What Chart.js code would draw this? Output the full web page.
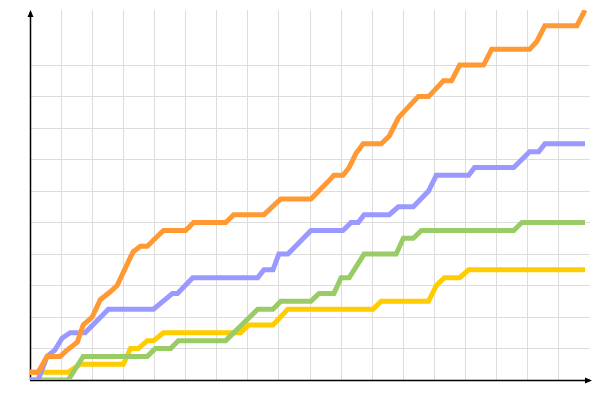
<!DOCTYPE html>
<html>
<head>
<meta charset="utf-8">
<script src="https://cdn.jsdelivr.net/npm/chart.js@4/dist/chart.umd.min.js"></script>
<style>
    body { margin: 0; background: #fff; }
    #wrap { width: 600px; height: 400px; position: relative; }
</style>
</head>
<body>
<div id="wrap"><canvas id="stepChart"></canvas></div>
<script>
// x in time units (grid every 10), y in counts (grid every 4)
const orangeX = [0, 2.6, 5.5, 9.7, 11.9, 15.2, 17.1, 20, 22.6, 25.8, 28, 32.3, 33.2, 35.5, 37.7, 40.3, 42.9, 50, 52.6, 62.9, 65.5, 75.2, 80.6, 90.3, 95.8, 97.7, 100.6, 102.6, 104.8, 107.1, 112.9, 115.5, 118.4, 120, 124.8, 128.1, 132.9, 135.5, 138.1, 145.8, 148.4, 160.6, 162.9, 165.5, 175.8, 178.4];
const orangeY = [1, 1, 3, 3, 3.8, 4.8, 7, 8, 10.2, 11.2, 12, 15.6, 16.3, 17, 17, 18, 19, 19, 20, 20, 21, 21, 23, 23, 25.2, 26, 26, 27, 28.8, 30, 30, 31, 33.3, 34, 36, 36, 38, 38, 40, 40, 42, 42, 43, 45, 45, 47];

const blueX = [0, 2.6, 5.5, 8, 10.3, 12.9, 17.7, 25.2, 39.7, 45.8, 47.4, 52.3, 73.2, 75.2, 78.1, 80, 82.9, 90.3, 100.6, 103.2, 105.5, 107.4, 115.5, 118.4, 123.2, 128.1, 130.6, 141, 142.9, 155.5, 160.6, 163.5, 165.5, 178.4];
const blueY = [0, 0, 3, 3.8, 5.3, 6, 6, 9, 9, 11, 11, 13, 13, 14, 14, 16, 16, 19, 19, 20, 20, 21, 21, 22, 22, 24, 26, 26, 27, 27, 29, 29, 30, 30];

const greenX = [0, 12.3, 17.1, 37.7, 40.3, 45.2, 47.7, 62.9, 73.2, 78.1, 80.6, 90.3, 92.9, 97.7, 100, 102.6, 107.4, 117.7, 120, 123.2, 125.8, 155.5, 158.1, 178.4];
const greenY = [0, 0, 3, 3, 4, 4, 5, 5, 9, 9, 10, 10, 11, 11, 13, 13, 16, 16, 18, 18, 19, 19, 20, 20];

const yellowX = [0, 12.3, 16.1, 30, 32.3, 34.8, 37.7, 39.7, 42.9, 67.7, 70.3, 78.1, 82.9, 110.3, 112.9, 128.1, 130.6, 133.2, 138.1, 141, 178.4];
const yellowY = [1, 1, 2, 2, 4, 4, 5, 5, 6, 6, 7, 7, 9, 9, 10, 10, 12, 13, 13, 14, 14];

function toPoints(xs, ys) {
    return xs.map((x, i) => ({ x: x, y: ys[i] }));
}

function lineSet(xs, ys, color) {
    return {
        data: toPoints(xs, ys),
        borderColor: color,
        borderWidth: 5,
        pointRadius: 0,
        tension: 0,
        fill: false
    };
}

// black axes with small arrow heads, under the lines
const axisArrows = {
    id: 'axisArrows',
    beforeDatasetsDraw(chart) {
        const { ctx, chartArea: a } = chart;
        ctx.save();
        ctx.strokeStyle = '#000';
        ctx.fillStyle = '#000';
        ctx.lineWidth = 1.5;
        ctx.beginPath();
        ctx.moveTo(a.left + 0.5, a.bottom);
        ctx.lineTo(a.left + 0.5, a.top + 2);
        ctx.moveTo(a.left, a.bottom + 0.5);
        ctx.lineTo(a.right, a.bottom + 0.5);
        ctx.stroke();

        ctx.beginPath();
        ctx.moveTo(a.left + 0.5, a.top);
        ctx.lineTo(a.left - 2.5, a.top + 7);
        ctx.lineTo(a.left + 3.5, a.top + 7);
        ctx.closePath();
        ctx.fill();

        ctx.beginPath();
        ctx.moveTo(a.right + 2, a.bottom + 0.5);
        ctx.lineTo(a.right - 5, a.bottom - 2.5);
        ctx.lineTo(a.right - 5, a.bottom + 3.5);
        ctx.closePath();
        ctx.fill();
        ctx.restore();
    }
};

const ctx = document.getElementById('stepChart').getContext('2d');

new Chart(ctx, {
    type: 'line',
    data: {
        datasets: [
            lineSet(orangeX, orangeY, '#ff9933'),
            lineSet(blueX, blueY, '#9999ff'),
            lineSet(greenX, greenY, '#99cc66'),
            lineSet(yellowX, yellowY, '#ffcc00')
        ]
    },
    options: {
        responsive: true,
        maintainAspectRatio: false,
        animation: false,
        layout: {
            padding: { left: 30, top: 10, right: 10, bottom: 20 }
        },
        plugins: {
            legend: { display: false },
            tooltip: { enabled: false }
        },
        scales: {
            x: {
                type: 'linear',
                min: 0,
                max: 180,
                border: { display: false },
                ticks: { display: false, stepSize: 10 },
                grid: {
                    drawTicks: false,
                    color: c => (c.tick && c.tick.value < 180) ? '#dddddd' : 'rgba(0,0,0,0)'
                }
            },
            y: {
                min: 0,
                max: 47,
                border: { display: false },
                ticks: { display: false, stepSize: 4 },
                grid: {
                    drawTicks: false,
                    color: c => (c.tick && c.tick.value <= 40) ? '#dddddd' : 'rgba(0,0,0,0)'
                }
            }
        }
    },
    plugins: [axisArrows]
});
</script>
</body>
</html>
